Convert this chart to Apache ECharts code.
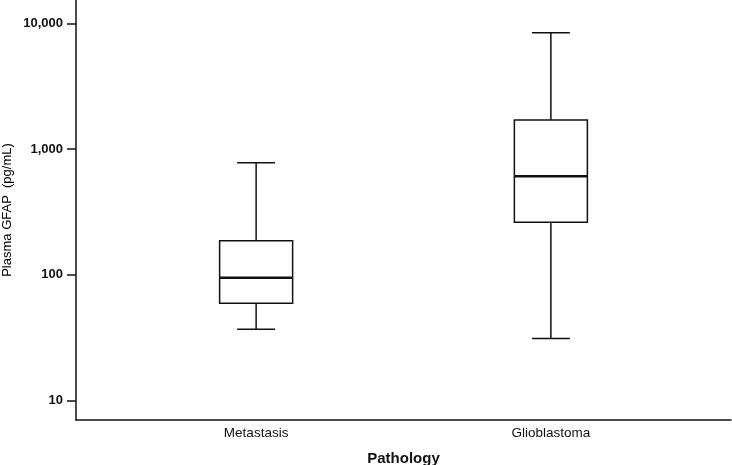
<!DOCTYPE html>
<html>
<head>
<meta charset="utf-8">
<script src="https://cdn.jsdelivr.net/npm/echarts@6/dist/echarts.min.js"></script>
<style>html,body{margin:0;padding:0;background:#fff;}#c{width:732px;height:465px;}</style>
</head>
<body>
<div id="c"></div>
<script>
// Categories and five-number summaries (pg/mL)
const categories = ['Metastasis', 'Glioblastoma'];
const whiskerLow = [36.7, 31.1];
const quartile1  = [59.2, 261];
const medians    = [94.6, 606];
const quartile3  = [186, 1702];
const whiskerHigh = [778, 8410];
const yTickValues = [10, 100, 1000, 10000];

// Category slots (padding slots place the two groups as in the original)
const slots = [];
for (let i = 0; i < 20; i++) slots.push('');
const slotIndex = [5, 14];
categories.forEach((c, i) => { slots[slotIndex[i]] = c; });

const boxData = categories.map((c, i) => [slotIndex[i], whiskerLow[i], quartile1[i], medians[i], quartile3[i], whiskerHigh[i]]);

const ink = '#111';
const chart = echarts.init(document.getElementById('c'), null, {renderer: 'canvas'});
chart.setOption({
  animation: false,
  backgroundColor: '#fff',
  grid: {left: 76, right: 1, top: 0, bottom: 45, containLabel: false, outerBoundsMode: 'none'},
  xAxis: {
    type: 'category',
    data: slots,
    boundaryGap: true,
    name: 'Pathology',
    nameLocation: 'middle',
    nameGap: 31,
    nameTextStyle: {fontFamily: 'Liberation Sans', fontWeight: 'bold', fontSize: 15, color: ink},
    axisLine: {lineStyle: {color: ink, width: 1.5}},
    axisTick: {show: false},
    axisLabel: {interval: 0, margin: 6, fontFamily: 'Liberation Sans', fontSize: 13.5, color: ink},
    splitLine: {show: false}
  },
  yAxis: {
    type: 'log',
    logBase: 10,
    min: 6.97,
    max: 15350,
    axisLine: {show: true, lineStyle: {color: ink, width: 1.5}},
    axisTick: {show: true, length: 9, customValues: yTickValues, lineStyle: {color: ink, width: 1.5}},
    axisLabel: {
      customValues: yTickValues,
      margin: 13,
      fontFamily: 'Liberation Sans', fontWeight: 'bold', fontSize: 13, color: ink,
      formatter: v => Number(v).toLocaleString('en-US')
    },
    splitLine: {show: false}
  },
  graphic: [{
    type: 'text',
    x: 7, y: 210,
    rotation: Math.PI / 2,
    style: {text: 'Plasma GFAP  (pg/mL)', fontFamily: 'Liberation Sans', fontSize: 13, fill: '#000',
            textAlign: 'center', textVerticalAlign: 'middle'}
  }],
  series: [{
    type: 'custom',
    data: boxData,
    encode: {x: 0, y: [1, 2, 3, 4, 5]},
    renderItem: function (params, api) {
      const xi = api.value(0);
      const pLow = api.coord([xi, api.value(1)]);
      const pQ1 = api.coord([xi, api.value(2)]);
      const pMed = api.coord([xi, api.value(3)]);
      const pQ3 = api.coord([xi, api.value(4)]);
      const pHigh = api.coord([xi, api.value(5)]);
      const cx = pMed[0];
      const hb = 36.5, hc = 19;
      const ls = {stroke: ink, lineWidth: 1.5, fill: null};
      return {
        type: 'group',
        children: [
          {type: 'line', shape: {x1: cx, y1: pHigh[1], x2: cx, y2: pQ3[1]}, style: ls},
          {type: 'line', shape: {x1: cx, y1: pQ1[1], x2: cx, y2: pLow[1]}, style: ls},
          {type: 'line', shape: {x1: cx - hc, y1: pHigh[1], x2: cx + hc, y2: pHigh[1]}, style: ls},
          {type: 'line', shape: {x1: cx - hc, y1: pLow[1], x2: cx + hc, y2: pLow[1]}, style: ls},
          {type: 'rect', shape: {x: cx - hb, y: pQ3[1], width: 2 * hb, height: pQ1[1] - pQ3[1]}, style: {stroke: ink, lineWidth: 1.5, fill: '#fff'}},
          {type: 'line', shape: {x1: cx - hb, y1: pMed[1], x2: cx + hb, y2: pMed[1]}, style: {stroke: ink, lineWidth: 2.5}}
        ]
      };
    }
  }]
});
</script>
</body>
</html>
